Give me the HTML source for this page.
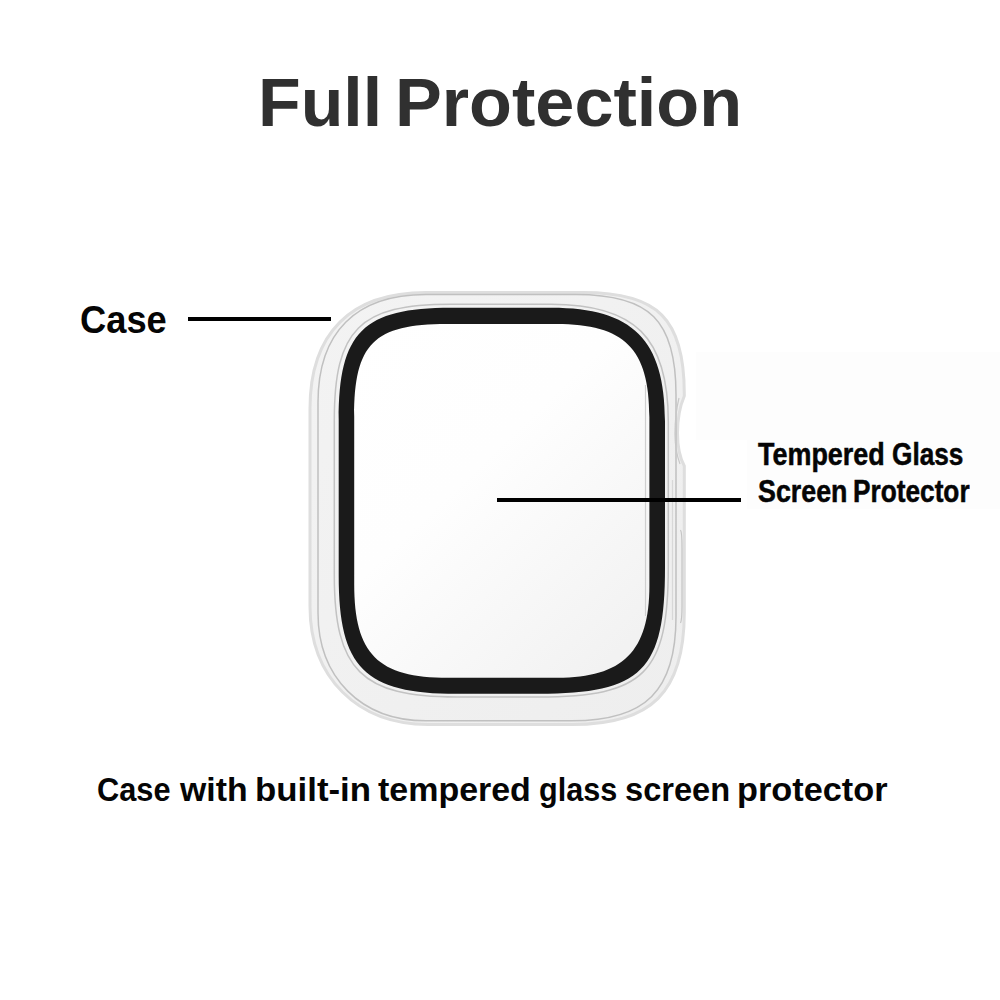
<!DOCTYPE html>
<html>
<head>
<meta charset="utf-8">
<style>
html,body{margin:0;padding:0;background:#fff;}
body{width:1000px;height:1000px;position:relative;overflow:hidden;font-family:"Liberation Sans",sans-serif;}
.w{position:absolute;white-space:nowrap;font-weight:bold;line-height:1;transform-origin:0 0;}
.t{font-size:68px;color:#303030;top:68px;}
.c{font-size:38px;color:#050505;top:301px;}
.b{font-size:33px;color:#050505;top:773px;}
.g{font-size:30.5px;color:#050505;-webkit-text-stroke:0.5px #050505;}
.line{position:absolute;background:#000;}
.gb{position:absolute;background:#fdfdfd;}
</style>
</head>
<body>
<div class="gb" style="left:696px;top:352px;width:304px;height:88px"></div><div class="gb" style="left:747px;top:440px;width:253px;height:69px"></div>

<div class="w t" style="left:258.3px;transform:scaleX(1.027)">Full</div>
<div class="w t" style="left:395.3px;transform:scaleX(1.032)">Protection</div>

<div class="w c" style="left:79.5px;transform:scaleX(0.955)">Case</div>
<div class="line" style="left:188px;top:317px;width:143px;height:4px;"></div>

<svg style="position:absolute;left:0;top:0" width="1000" height="1000" viewBox="0 0 1000 1000">
  <defs>
    <linearGradient id="scr" x1="0" y1="0" x2="0.8" y2="1">
      <stop offset="0" stop-color="#ffffff"/>
      <stop offset="0.45" stop-color="#fefefe"/>
      <stop offset="1" stop-color="#f2f2f2"/>
    </linearGradient>
    <linearGradient id="cs" x1="0" y1="0" x2="1" y2="1">
      <stop offset="0" stop-color="#f3f3f3"/>
      <stop offset="1" stop-color="#eeeeee"/>
    </linearGradient>
  </defs>
  <path d="M426.00 292.60 L583.30 292.60 C658.04 292.60 684.30 318.86 684.30 393.60 L684.3 396 C680 406 677.5 420 677.5 433 C677.5 447 680 458 684.3 466 L684.30 612.50 C684.30 692.02 651.82 724.50 572.30 724.50 L428.00 724.50 C357.20 724.50 310.00 677.30 310.00 606.50 L310.00 408.60 C310.00 333.20 350.60 292.60 426.00 292.60Z" fill="url(#cs)" stroke="#dedede" stroke-width="3"/>
  <path d="M426.00 294.50 L576.00 294.50 C650.00 294.50 676.00 320.50 676.00 394.50 L676.00 616.80 C676.00 690.64 645.84 720.80 572.00 720.80 L426.00 720.80 C361.20 720.80 318.00 677.60 318.00 612.80 L318.00 402.50 C318.00 332.30 355.80 294.50 426.00 294.50Z" fill="none" stroke="#c0c0c0" stroke-width="1.5"/>
  <path d="M450.62 304.20 L550.88 304.20 C634.95 304.20 668.30 337.55 668.30 421.62 L668.30 566.79 C668.30 673.43 644.73 697.00 538.09 697.00 L456.42 697.00 C361.29 697.00 334.30 670.01 334.30 574.88 L334.30 420.52 C334.30 329.47 359.57 304.20 450.62 304.20Z" fill="none" stroke="#c2c2c2" stroke-width="1.5"/>
  <path d="M446.71 324.00 L556.47 324.00 C624.63 324.00 649.40 348.77 649.40 416.93 L649.40 585.82 C649.40 651.35 622.95 677.80 557.42 677.80 L448.10 677.80 C378.04 677.80 354.20 653.96 354.20 583.90 L354.20 416.51 C354.20 343.69 373.89 324.00 446.71 324.00Z" fill="url(#scr)"/>
  <path d="M451.02 307.80 L551.58 307.80 C632.79 307.80 665.00 340.01 665.00 421.22 L665.00 567.59 C665.00 670.95 642.15 693.80 538.79 693.80 L456.82 693.80 C364.80 693.80 338.70 667.70 338.70 575.68 L338.70 420.12 C338.70 332.20 363.10 307.80 451.02 307.80Z M446.71 324.00 L556.47 324.00 C624.63 324.00 649.40 348.77 649.40 416.93 L649.40 585.82 C649.40 651.35 622.95 677.80 557.42 677.80 L448.10 677.80 C378.04 677.80 354.20 653.96 354.20 583.90 L354.20 416.51 C354.20 343.69 373.89 324.00 446.71 324.00Z" fill="#1a1a1a" fill-rule="evenodd"/>
  <line x1="645.5" y1="385" x2="645.5" y2="616" stroke="#cfcfcf" stroke-width="1.2"/>
  <path d="M672.5 480 L672.5 620" stroke="#d8d8d8" stroke-width="1.2" fill="none"/>
  <path d="M680.5 530 C682 532 682 540 682 548 L682 606 C682 614 682 620 680.5 623" stroke="#c4c4c4" stroke-width="1.2" fill="none"/>
  <path d="M679 398 C676 410 675 422 675 434 C675 446 677 456 680 464" stroke="#c8c8c8" stroke-width="1.2" fill="none"/>
</svg>

<div class="line" style="left:497px;top:498px;width:244px;height:4px;"></div>

<div class="w g" style="left:758px;top:439px;transform:scaleX(0.883)">Tempered</div>
<div class="w g" style="left:892.2px;top:439px;transform:scaleX(0.859)">Glass</div>
<div class="w g" style="left:758.1px;top:476px;transform:scaleX(0.879)">Screen</div>
<div class="w g" style="left:853.4px;top:476px;transform:scaleX(0.86)">Protector</div>

<div class="w b" style="left:97.3px;transform:scaleX(0.932)">Case</div>
<div class="w b" style="left:180px;transform:scaleX(1.023)">with</div>
<div class="w b" style="left:254.6px;transform:scaleX(1.055)">built-in</div>
<div class="w b" style="left:378.1px;transform:scaleX(1.029)">tempered</div>
<div class="w b" style="left:539.1px;transform:scaleX(0.927)">glass</div>
<div class="w b" style="left:624.5px;transform:scaleX(0.988)">screen</div>
<div class="w b" style="left:736.8px;transform:scaleX(1.039)">protector</div>
</body>
</html>
